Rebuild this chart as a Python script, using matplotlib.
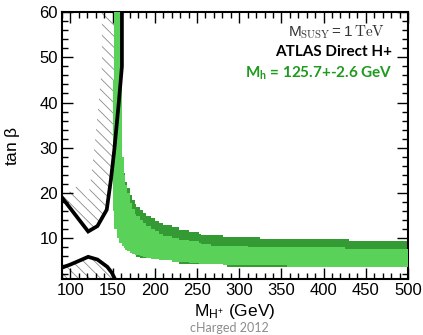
import numpy as np
import matplotlib.pyplot as plt
from matplotlib.ticker import MultipleLocator

plt.rcParams['font.family'] = ['Liberation Sans', 'DejaVu Sans']
plt.rcParams['mathtext.fontset'] = 'custom'
plt.rcParams['mathtext.rm'] = 'Liberation Sans'
plt.rcParams['mathtext.bf'] = 'Lato:bold'
plt.rcParams['mathtext.default'] = 'regular'
plt.rcParams['hatch.linewidth'] = 0.6

# exclusion contours (M_H+ [GeV], tan beta)
excl_hi_x = [90, 121, 132, 143, 148, 152, 157.5, 161, 161]
excl_hi_y = [19, 11.5, 12.7, 16.3, 23, 29.6, 40.4, 48, 60]
excl_lo_x = [90, 100, 110, 121, 132, 143.6, 149, 152.7]
excl_lo_y = [3.5, 4.2, 5.0, 5.9, 5.3, 3.7, 2.4, 1.0]

# Mh = 125.7 +- 2.6 GeV allowed bands, binned (left bin edges)
bin_edges = [150, 152, 155, 158, 161, 163, 165, 167, 170, 173, 176, 178, 182,
             186, 190, 195, 200, 205, 210, 220, 229, 240, 252, 255, 266, 281,
             285, 310, 325, 357, 425, 430, 500]
dark_hi = [45, 60, 60, 60, 28, 24.4, 22.5, 21, 19.5, 18.4, 17.6, 17, 16.2,
           15.5, 15, 14.4, 13.8, 13.4, 13, 12.4, 11.9, 11.4, 10.9, 10.7, 10.7,
           10.2, 10.2, 10.2, 9.8, 9.8, 9.8, 9.4]
dark_lo = [16, 12, 10.0, 9.0, 8.3, 7.9, 7.5, 7.2, 6.8, 6.5, 6.3, 5.95, 5.75,
           5.55, 5.6, 5.5, 5.35, 5.2, 5.1, 4.8, 4.35, 4.35, 4.35, 4.35, 4.3,
           4.2, 3.7, 3.7, 3.7, 3.75, 3.75, 3.75]
light_hi = [45, 60, 60, 60, 28, 24, 21.8, 20, 17.8, 16.4, 15.4, 14.9, 14,
            13.3, 12.8, 12.1, 11.5, 11.0, 10.6, 10.1, 9.7, 9.3, 9.0, 8.8, 8.36,
            8.36, 8.36, 8.0, 8.0, 8.0, 7.55, 7.55]
light_lo = [16, 12, 10.0, 9.0, 8.3, 7.9, 7.5, 7.2, 6.8, 6.5, 6.3, 6.3, 6.1,
            5.9, 5.6, 5.5, 5.35, 5.2, 5.1, 4.8, 4.8, 4.6, 4.35, 4.35, 4.3,
            4.2, 4.05, 4.05, 4.05, 3.75, 3.75, 3.75]

light_green = '#5ad25a'
dark_green = '#349a34'
text_green = '#1f9a1f'


def hatch_side(ax, x, y, width_px):
    """polygon between a line and its offset (to the left of travel) in pixels"""
    pts = ax.transData.transform(np.column_stack([x, y]))
    d = np.gradient(pts, axis=0)
    d /= np.linalg.norm(d, axis=1)[:, None]
    normal = np.column_stack([-d[:, 1], d[:, 0]])
    off = ax.transData.inverted().transform(pts + normal * width_px)
    px = np.concatenate([np.asarray(x, float), off[::-1, 0]])
    py = np.concatenate([np.asarray(y, float), off[::-1, 1]])
    return px, py


fig = plt.figure(figsize=(4.23, 3.35), dpi=100)
ax = fig.add_axes([62 / 423, 1 - 279 / 335, 346 / 423, 267 / 335])
ax.set_xlim(90, 500)
ax.set_ylim(1, 60)

# hatched excluded sides
hx, hy = hatch_side(ax, excl_hi_x, excl_hi_y, 20)
ax.fill(hx, hy, facecolor='none', edgecolor='#8a8a8a', hatch='\\\\\\', linewidth=0, zorder=1)
ax.fill_between(excl_lo_x, excl_lo_y, 1, facecolor='none', edgecolor='#8a8a8a',
                hatch='\\\\\\', linewidth=0, zorder=1)

# green bands
dh = dark_hi + [dark_hi[-1]]
dl = dark_lo + [dark_lo[-1]]
lh = light_hi + [light_hi[-1]]
ll = light_lo + [light_lo[-1]]
ax.fill_between(bin_edges, dl, dh, step='post', color=dark_green, linewidth=0, zorder=2)
ax.fill_between(bin_edges, ll, lh, step='post', color=light_green, linewidth=0, zorder=3)

# contour lines
ax.plot(excl_hi_x, excl_hi_y, color='black', linewidth=2.7, zorder=4, solid_joinstyle='miter')
ax.plot(excl_lo_x, excl_lo_y, color='black', linewidth=2.7, zorder=4, solid_joinstyle='miter')

ax.xaxis.set_major_locator(MultipleLocator(50))
ax.xaxis.set_minor_locator(MultipleLocator(10))
ax.yaxis.set_major_locator(MultipleLocator(10))
ax.yaxis.set_minor_locator(MultipleLocator(2))
ax.tick_params(which='both', direction='in', top=True, right=True, width=1,
               labelsize=12, pad=3)
ax.tick_params(which='major', length=8)
ax.tick_params(which='minor', length=4)
for s in ax.spines.values():
    s.set_linewidth(1.5)

ax.set_xlabel(r'$M_{H^{+}}$ (GeV)', fontsize=12.5)
ax.xaxis.set_label_coords(0.5, -0.085)
ax.xaxis.label.set_va('top')
ax.set_ylabel(r'tan $\beta$', fontsize=12.5)
ax.yaxis.set_label_coords(-0.115, 0.5)

ax.text(0.935, 0.925, r'$M_{\rm SUSY} = 1\,{\rm TeV}$', transform=ax.transAxes,
        ha='right', va='center', fontsize=11, math_fontfamily='cm', color='#333333')
ax.text(0.955, 0.85, 'ATLAS Direct H+', transform=ax.transAxes, ha='right',
        va='center', fontsize=11, family='Lato', weight='bold')
ax.text(0.957, 0.77, r'M$_\mathbf{h}$ = 125.7+-2.6 GeV', transform=ax.transAxes,
        ha='right', va='center', fontsize=11, family='Lato', weight='bold',
        color=text_green)

fig.text(0.543, 0.021, 'cHarged 2012', ha='center', va='center', fontsize=9,
         family='Lato', color='#8c8c8c')

fig.savefig('out.png', dpi=100)
